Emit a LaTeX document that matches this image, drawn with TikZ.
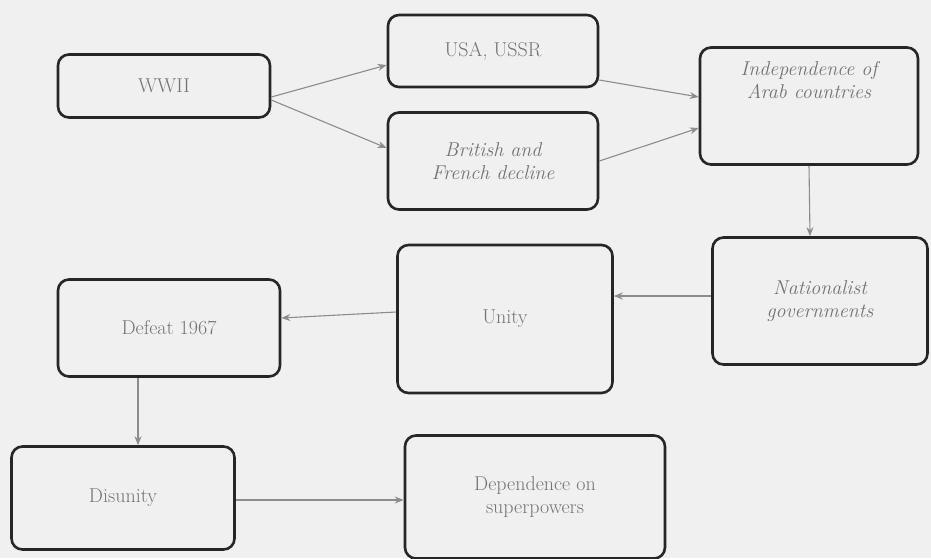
\documentclass[tikz,border=0pt]{standalone}
\usetikzlibrary{arrows.meta}

\begin{document}
\begin{tikzpicture}[x=1pt,y=-1pt,
  box/.style={draw=black!85,line width=2.6pt,rounded corners=11pt,align=center,
    font=\fontsize{20}{23}\selectfont,text=black!55,inner sep=0pt},
  arr/.style={draw=black!45,line width=1.1pt,-{Stealth[length=9pt,width=7pt]}}]
\useasboundingbox[fill=black!6] (0,0) rectangle (931,558);
\node [box,minimum width=212pt,minimum height=63pt] (wwii) at (164,86) {WWII};
\node [box,minimum width=210pt,minimum height=72pt] (usa) at (493,51) {USA, USSR};
\node [box,minimum width=210pt,minimum height=97pt,font=\fontsize{20}{23}\selectfont\itshape] (brit) at (493,161) {British and\\French decline};
\node [box,minimum width=218pt,minimum height=117pt,font=\fontsize{20}{23}\selectfont\itshape] (indep) at (809,106) {Independence of\\Arab countries\\[30pt]};
\node [box,minimum width=215pt,minimum height=127pt,font=\fontsize{20}{23}\selectfont\itshape] (nat) at (820,301) {Nationalist\\governments};
\node [box,minimum width=215pt,minimum height=148pt] (unity) at (505,319) {Unity};
\node [box,minimum width=222pt,minimum height=97pt] (defeat) at (169,328) {Defeat 1967};
\node [box,minimum width=223pt,minimum height=103pt] (disun) at (123,498) {Disunity};
\node [box,minimum width=260pt,minimum height=123pt] (dep) at (535,497) {Dependence on\\superpowers};
% connectors
\draw [arr] ([yshift=-11pt]wwii.east) -- ([yshift=-14pt]usa.west);
\draw [arr] ([yshift=-14pt]wwii.east) -- ([yshift=13pt]brit.west);
\draw [arr] ([yshift=-29pt]usa.east) -- ([yshift=9pt]indep.west);
\draw [arr] (brit.east) -- ([yshift=-22pt]indep.west);
\draw [arr] (indep.south) -- ([xshift=-10pt]nat.north);
\draw [arr] ([yshift=5pt]nat.west) -- ([yshift=23pt]unity.east);
\draw [arr] ([yshift=7pt]unity.west) -- ([yshift=10pt]defeat.east);
\draw [arr] ([xshift=-31pt]defeat.south) -- ([xshift=15pt]disun.north);
\draw [arr] ([yshift=-2pt]disun.east) -- ([yshift=-3pt]dep.west);
\end{tikzpicture}
\end{document}
